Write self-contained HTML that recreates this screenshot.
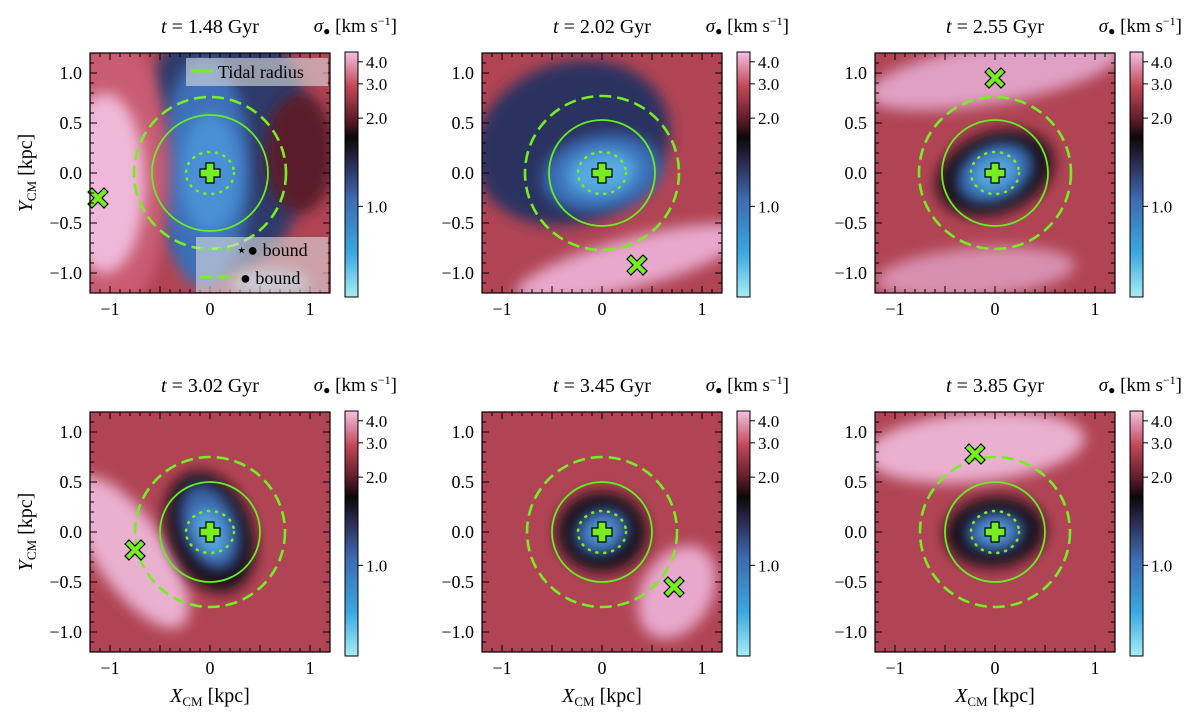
<!DOCTYPE html>
<html><head><meta charset="utf-8"><style>
body{margin:0;background:#fff;}
svg{display:block;font-family:"Liberation Serif",serif;}
</style></head><body>
<svg id="fig" width="1200" height="720" viewBox="0 0 1200 720">
<defs>
<filter id="blur8" x="-50%" y="-50%" width="200%" height="200%"><feGaussianBlur stdDeviation="7"/></filter>
<linearGradient id="cbar" x1="0" y1="1" x2="0" y2="0">
<stop offset="0" stop-color="#a8ecf4"/><stop offset="0.18" stop-color="#3aa8e0"/><stop offset="0.4" stop-color="#3e6ab0"/>
<stop offset="0.55" stop-color="#2a2a50"/><stop offset="0.65" stop-color="#0c0808"/><stop offset="0.72" stop-color="#5a1a28"/>
<stop offset="0.86" stop-color="#c04858"/><stop offset="1" stop-color="#f4c0e4"/>
</linearGradient>
</defs>
</svg>
<script>
// data
const times = ["1.48","2.02","2.55","3.02","3.45","3.85"];
const markX = [-1.12, 0.35, 0.0, -0.75, 0.72, -0.2];
const markY = [-0.25, -0.92, 0.95, -0.18, -0.55, 0.78];
const tidalR = [0.58, 0.53, 0.53, 0.50, 0.50, 0.50];
const boundR = [0.76, 0.77, 0.76, 0.75, 0.75, 0.75];
const cbTicks = [4.0, 3.0, 2.0, 1.0];
const cbTickFrac = [0.04, 0.13, 0.27, 0.63];
const axTicks = [-1, 0, 1];
const yTicks = [-1.0, -0.5, 0.0, 0.5, 1.0];

const NS="http://www.w3.org/2000/svg";
const fig=document.getElementById('fig');
function el(tag,attrs,parent,txt){const e=document.createElementNS(NS,tag);for(const k in attrs)e.setAttribute(k,attrs[k]);if(txt!==undefined)e.textContent=txt;(parent||fig).appendChild(e);return e;}

const lefts=[90,482,875], tops=[53,412], S=240;
const scenes=[
 [{c:'#2e3a6a',x:0.15,y:0.3,rx:0.85,ry:1.3,r:0},{c:'#3e70b8',x:-0.05,y:0,rx:0.45,ry:1.15,r:0},{c:'#4a90d4',x:0,y:0,rx:0.3,ry:0.6,r:0},{c:'#c85c72',x:-0.95,y:0,rx:0.55,ry:1.4,r:0},{c:'#f0b8d8',x:-1.05,y:-0.1,rx:0.4,ry:0.9,r:0},{c:'#5a1c2a',x:0.9,y:0.2,rx:0.35,ry:0.6,r:0},{c:'#b0a8c0',x:0.6,y:-1.1,rx:0.4,ry:0.15,r:0}],
 [{c:'#2a3060',x:-0.3,y:0.3,rx:1.0,ry:0.8,r:-20},{c:'#e8a8cc',x:0.3,y:-0.9,rx:1.2,ry:0.25,r:-15},{c:'#3a70b8',x:0,y:0,rx:0.6,ry:0.38,r:-10},{c:'#55aae0',x:0,y:0,rx:0.35,ry:0.22,r:-10}],
 [{c:'#e0a0c4',x:0,y:1.0,rx:1.3,ry:0.3,r:-10},{c:'#d890b0',x:-0.2,y:-1.0,rx:1.0,ry:0.25,r:-5},{c:'#180c14',x:0,y:0,rx:0.6,ry:0.4,r:-20},{c:'#3a70b8',x:0,y:0,rx:0.4,ry:0.28,r:-25},{c:'#55aae0',x:0,y:0,rx:0.22,ry:0.16,r:-25}],
 [{c:'#eab0d0',x:-0.8,y:-0.2,rx:0.35,ry:0.9,r:-35},{c:'#180c14',x:0,y:0,rx:0.42,ry:0.62,r:-20},{c:'#3a64a8',x:0,y:0.05,rx:0.28,ry:0.45,r:-20},{c:'#55aae0',x:0,y:0,rx:0.15,ry:0.25,r:-20}],
 [{c:'#e8a8cc',x:0.75,y:-0.6,rx:0.35,ry:0.5,r:30},{c:'#180c14',x:0,y:0,rx:0.45,ry:0.4,r:0},{c:'#3a64a8',x:0,y:0,rx:0.28,ry:0.23,r:-20},{c:'#55aae0',x:0,y:0,rx:0.14,ry:0.12,r:-20}],
 [{c:'#eab0d0',x:-0.2,y:0.85,rx:1.1,ry:0.35,r:-5},{c:'#180c14',x:0,y:0,rx:0.5,ry:0.35,r:-5},{c:'#3a64a8',x:0,y:0,rx:0.3,ry:0.2,r:-5},{c:'#55aae0',x:0,y:0,rx:0.16,ry:0.11,r:-5}]
];

for(let i=0;i<6;i++){
 const L=lefts[i%3], T=tops[Math.floor(i/3)];
 const sx=v=>L+(v+1.2)/2.4*S, sy=v=>T+(1.2-v)/2.4*S, sr=v=>v/2.4*S;
 const g=el('g',{});
 
 
 el('clipPath',{id:'cp'+i},g).appendChild(el('rect',{x:L,y:T,width:S,height:S}));
 const hm=el('g',{'clip-path':'url(#cp'+i+')'},g);
 
 
 el('rect',{x:L,y:T,width:S,height:S,fill:'#b04454'},hm);
 scenes[i].forEach(s=>{el('ellipse',{cx:sx(s.x),cy:sy(s.y),rx:sr(s.rx),ry:sr(s.ry),fill:s.c,transform:`rotate(${s.r} ${sx(s.x)} ${sy(s.y)})`,filter:'url(#blur8)'},hm);});
 const cx=sx(0),cy=sy(0);
 const c1=el('circle',{cx,cy,r:sr(tidalR[i]),fill:'none',stroke:'#66ee22','stroke-width':1.8},g);
 
 const c2=el('circle',{cx,cy,r:sr(boundR[i]),fill:'none',stroke:'#77ee22','stroke-width':2.6,'stroke-dasharray':'12 6'},g);
 
 const c3=el('ellipse',{cx,cy,rx:sr(0.24),ry:sr(0.21),fill:'none',stroke:'#77ee22','stroke-width':2.6,'stroke-dasharray':'1 7','stroke-linecap':'round'},g);
 
 const p=el('path',{d:`M${cx-4},${cy-10}h8v6h6v8h-6v6h-8v-6h-6v-8h6z`,fill:'#77ee22',stroke:'#000','stroke-width':1.2},g);
 
 const mx=sx(markX[i]),my=sy(markY[i]);
 const xm=el('path',{d:`M${mx-10},${my-6}l4,-4l6,6l6,-6l4,4l-6,6l6,6l-4,4l-6,-6l-6,6l-4,-4l6,-6z`,fill:'#77ee22',stroke:'#000','stroke-width':1.2},g);
 
 el('rect',{x:L,y:T,width:S,height:S,fill:'none',stroke:'#000','stroke-width':1.2},g);
 for(let k=-12;k<=12;k++){const v=k/10;const maj=k%5===0;const len=maj?7:4;
  el('line',{x1:sx(v),x2:sx(v),y1:T+S,y2:T+S-len,stroke:'#000'},g);
  el('line',{x1:sx(v),x2:sx(v),y1:T,y2:T+len,stroke:'#000'},g);
  el('line',{x1:L,x2:L+len,y1:sy(v),y2:sy(v),stroke:'#000'},g);
  el('line',{x1:L+S,x2:L+S-len,y1:sy(v),y2:sy(v),stroke:'#000'},g);}
 axTicks.forEach(v=>{const t=el('text',{x:sx(v),y:T+S+22,'font-size':18,'text-anchor':'middle'},g,v<0?'−'+(-v):String(v));});
 yTicks.forEach(v=>{const t=el('text',{x:L-8,y:sy(v)+6,'font-size':18,'text-anchor':'end'},g,(v<0?'−':'')+Math.abs(v).toFixed(1));});
 const tt=el('text',{x:L+S/2,y:T-20,'font-size':20,'text-anchor':'middle'},g);
 
 el('tspan',{'font-style':'italic'},tt,'t');el('tspan',{},tt,' = '+times[i]+' Gyr');
 const bx=L+255,by=T-1,bh=245;
 const cb=el('rect',{x:bx,y:by,width:13,height:bh,fill:'url(#cbar)',stroke:'#000','stroke-width':1},g);
 
 cbTicks.forEach((v,j)=>{const yy=by+cbTickFrac[j]*bh;el('line',{x1:bx+13,x2:bx+18,y1:yy,y2:yy,stroke:'#000'},g);
  const t=el('text',{x:bx+21,y:yy+6,'font-size':17},g,v.toFixed(1));});
 const ct=el('text',{x:bx+52,y:T-21,'font-size':19,'text-anchor':'end'},g);
 
 el('tspan',{'font-style':'italic'},ct,'σ');el('tspan',{'font-size':12,dy:3},ct,'●');el('tspan',{dy:-3},ct,'  [km s');el('tspan',{'font-size':12,dy:-7},ct,'−1');el('tspan',{dy:7},ct,']');
 if(i%3===0){const yl=el('text',{x:0,y:0,'font-size':20,'text-anchor':'middle',transform:`translate(${L-58},${T+S/2}) rotate(-90)`},g);
  
  el('tspan',{'font-style':'italic'},yl,'Y');el('tspan',{'font-size':13,dy:4},yl,'CM');el('tspan',{dy:-4},yl,'  [kpc]');}
 if(i>=3){const xl=el('text',{x:L+S/2,y:T+S+50,'font-size':20,'text-anchor':'middle'},g);
  
  el('tspan',{'font-style':'italic'},xl,'X');el('tspan',{'font-size':13,dy:4},xl,'CM');el('tspan',{dy:-4},xl,'  [kpc]');}
 if(i===0){
  const lg=el('g',{},g);
  el('rect',{x:186,y:58,width:142,height:28,fill:'#ddd','fill-opacity':0.6},lg);
  el('line',{x1:191,x2:213,y1:71,y2:71,stroke:'#77ee22','stroke-width':3},lg);
  el('text',{x:218,y:78,'font-size':18},lg,'Tidal radius');
  const lb=el('g',{},g);
  el('rect',{x:196,y:237,width:132,height:55,fill:'#ddd','fill-opacity':0.6},lb);
  el('line',{x1:200,x2:236,y1:249,y2:249,stroke:'#77ee22','stroke-width':3,'stroke-dasharray':'3 6'},lb);
  el('text',{x:236,y:256,'font-size':18},lb,'⋆● bound');
  el('line',{x1:200,x2:236,y1:277,y2:277,stroke:'#77ee22','stroke-width':3,'stroke-dasharray':'12 5'},lb);
  el('text',{x:240,y:284,'font-size':18},lb,'● bound');
 }
}
</script>
</body></html>
